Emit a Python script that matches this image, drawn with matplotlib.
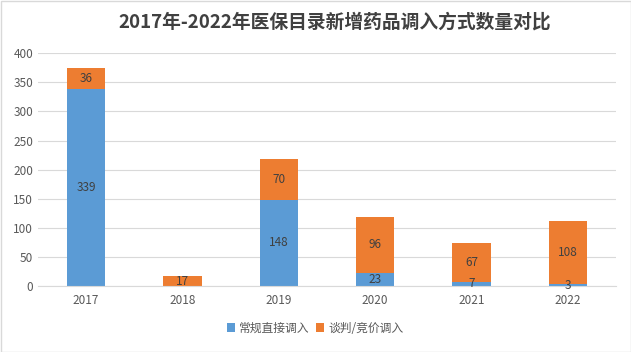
import matplotlib
matplotlib.use("Agg")
import matplotlib.pyplot as plt
from matplotlib.patches import Rectangle

plt.rcParams['font.family'] = ['Noto Sans CJK SC', 'DejaVu Sans']

years = ["2017", "2018", "2019", "2020", "2021", "2022"]
regular = [339, 0, 148, 23, 7, 3]
negotiated = [36, 17, 70, 96, 67, 108]
series_names = ["常规直接调入", "谈判/竞价调入"]
title = "2017年-2022年医保目录新增药品调入方式数量对比"

blue = "#5B9BD5"
orange = "#ED7D31"
txt = "#404040"

fig = plt.figure(figsize=(6.31, 3.52), dpi=100)
ax = fig.add_axes([38/631, 1-286/352, (616-38)/631, (286-53.3)/352])

x = list(range(len(years)))
w = 0.4
b1 = ax.bar(x, regular, width=w, color=blue, zorder=2)
b2 = ax.bar(x, negotiated, width=w, bottom=regular, color=orange, zorder=2)

for i in x:
    if regular[i] > 0:
        ax.text(i, regular[i] / 2, str(regular[i]), ha='center', va='center',
                fontsize=8.5, color=txt, zorder=3)
    ax.text(i, regular[i] + negotiated[i] / 2, str(negotiated[i]), ha='center',
            va='center', fontsize=8.5, color=txt, zorder=3)

ax.set_xlim(-0.5, len(years) - 0.5)
ax.set_ylim(0, 400)
ax.set_yticks(range(0, 401, 50))
ax.set_xticks(x)
ax.set_xticklabels(years)
ax.yaxis.grid(True, color="#D9D9D9", linewidth=0.8, zorder=0)
ax.tick_params(axis='both', length=0, labelsize=8.5, labelcolor="#595959")
ax.tick_params(axis='x', pad=6)
for s in ['top', 'right', 'left']:
    ax.spines[s].set_visible(False)
ax.spines['bottom'].set_color("#D9D9D9")

fig.text(335/631, 1 - 22/352, title, ha='center', va='center', fontsize=13.5,
         color="#404040", fontweight='bold')

leg = fig.legend([b1, b2], series_names, loc='center', bbox_to_anchor=(315/631, 1 - 328/352),
                 ncol=2, frameon=False, fontsize=8.5, handlelength=0.7, handleheight=0.7,
                 columnspacing=0.6, handletextpad=0.3, labelcolor="#595959")

fig.patches.append(Rectangle((0.5/631, 0.5/352), 1 - 1/631, 1 - 1/352, transform=fig.transFigure,
                             fill=False, edgecolor="#D9D9D9", linewidth=1))

fig.savefig("out.png", dpi=100)
